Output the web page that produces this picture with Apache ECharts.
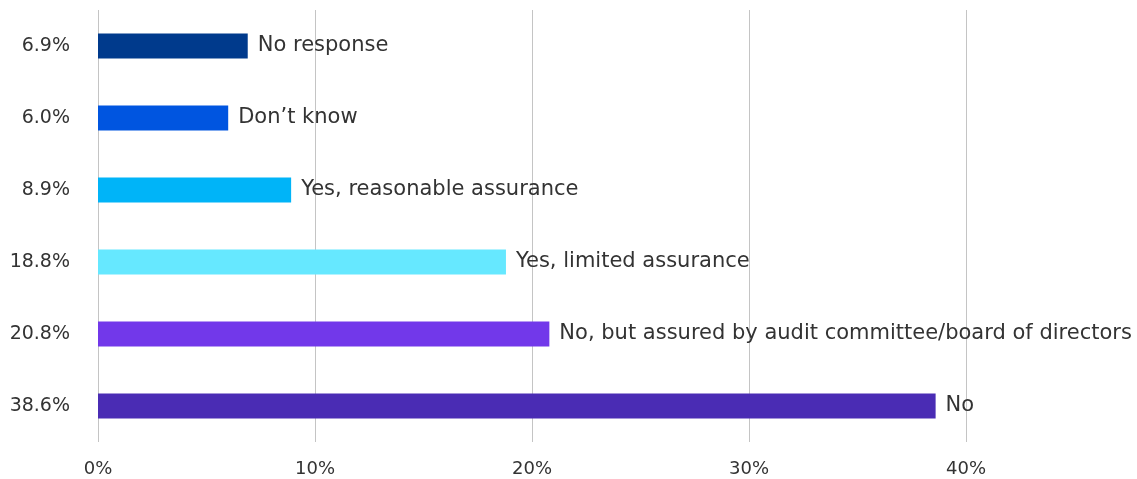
<!DOCTYPE html>
<html>
<head>
<meta charset="utf-8">
<script src="https://cdn.jsdelivr.net/npm/echarts@6/dist/echarts.min.js"></script>
<style>
  html, body { margin: 0; padding: 0; background: #fff; }
  #chart { width: 1137px; height: 479px; }
</style>
</head>
<body>
<div id="chart"></div>
<script>
const categories = ['No response', 'Don\u2019t know', 'Yes, reasonable assurance', 'Yes, limited assurance', 'No, but assured by audit committee/board of directors', 'No'];
const values = [6.9, 6.0, 8.9, 18.8, 20.8, 38.6];
const colors = ['#003A8C', '#0055E0', '#00B4F8', '#66E8FF', '#7238EA', '#4A2CB4'];
const xTicks = [0, 10, 20, 30, 40];

const chart = echarts.init(document.getElementById('chart'));
chart.setOption({
  animation: false,
  textStyle: { fontFamily: '"DejaVu Sans", sans-serif' },
  grid: { left: 98, top: 10, width: 868, height: 432, containLabel: false },
  xAxis: {
    type: 'value',
    min: xTicks[0],
    max: xTicks[xTicks.length - 1],
    interval: 10,
    axisLine: { show: false },
    axisTick: { show: false },
    axisLabel: { color: '#333', fontSize: 18, margin: 18, formatter: v => v + '%' },
    splitLine: { show: true, lineStyle: { color: '#c4c4c4', width: 1 } }
  },
  yAxis: {
    type: 'category',
    inverse: true,
    data: categories,
    axisLine: { show: false },
    axisTick: { show: false },
    axisLabel: {
      color: '#333', fontSize: 19, margin: 28,
      formatter: (name) => values[categories.indexOf(name)].toFixed(1) + '%'
    }
  },
  series: [{
    type: 'bar',
    barWidth: 25,
    data: values.map((v, i) => ({ value: v, itemStyle: { color: colors[i] } })),
    label: {
      show: true,
      position: 'right',
      distance: 10,
      color: '#333',
      fontSize: 21,
      formatter: p => p.name
    }
  }]
});
</script>
</body>
</html>
